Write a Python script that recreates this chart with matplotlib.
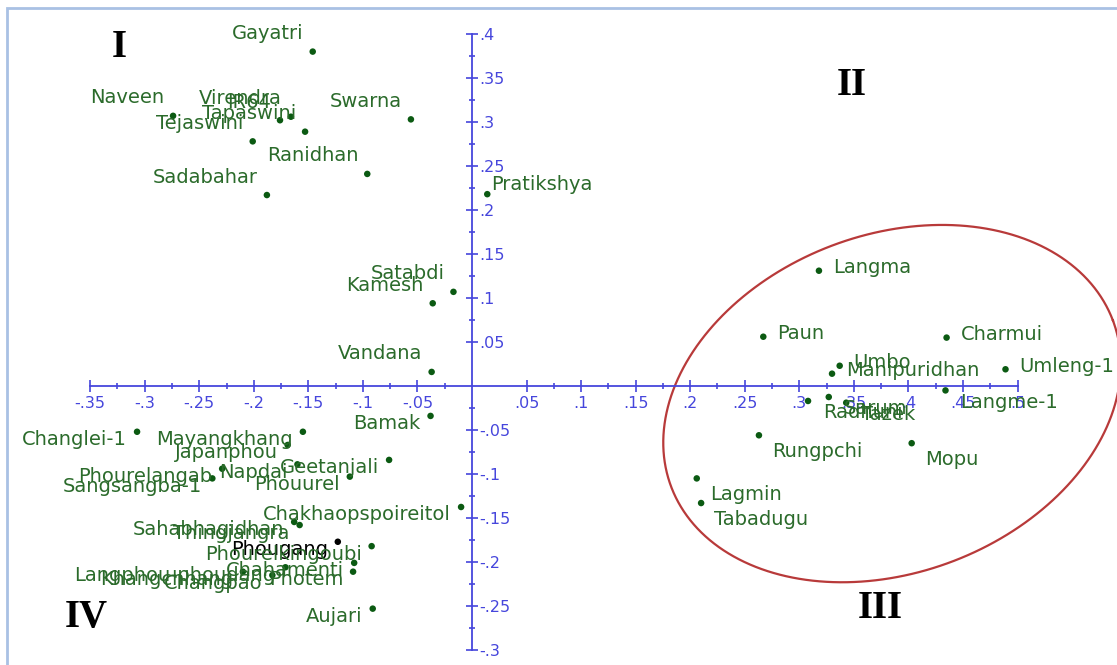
import matplotlib.pyplot as plt
import numpy as np
from matplotlib.patches import Rectangle
from matplotlib.ticker import FixedLocator, FuncFormatter

# varieties and their coordinates
names = ["Gayatri", "Naveen", "Virendra", "IR64", "Tapaswini", "Tejaswini",
         "Swarna", "Ranidhan", "Sadabahar", "Pratikshya", "Satabdi", "Kamesh",
         "Vandana",
         "Langma", "Paun", "Charmui", "Umbo", "Manipuridhan", "Umleng-1",
         "Langme-1", "Radhuni", "Sarum", "Tazek", "Rungpchi", "Mopu",
         "Lagmin", "Tabadugu",
         "Bamak", "Changlei-1", "Mayangkhang", "Japanphou", "Geetanjali",
         "Napdai", "Phourelangab", "Sangsangba-1", "Phouurel",
         "Chakhaopspoireitol", "Thingjangra", "Sahabhagidhan", "Phougang",
         "Phourelkingoubi", "Chahamenti", "Photem", "Langphou-phoudang",
         "Khangchhang", "Changpao", "Aujari"]
dim1 = [-0.146, -0.274, -0.166, -0.176, -0.153, -0.201,
        -0.056, -0.096, -0.188, 0.014, -0.017, -0.036,
        -0.037,
        0.318, 0.267, 0.435, 0.337, 0.330, 0.489,
        0.434, 0.308, 0.327, 0.343, 0.263, 0.403,
        0.206, 0.210,
        -0.038, -0.307, -0.155, -0.169, -0.076,
        -0.160, -0.229, -0.238, -0.112,
        -0.010, -0.158, -0.163, -0.123,
        -0.092, -0.108, -0.109, -0.171,
        -0.210, -0.183, -0.091]
dim2 = [0.380, 0.307, 0.306, 0.302, 0.289, 0.278,
        0.303, 0.241, 0.217, 0.218, 0.107, 0.094,
        0.016,
        0.131, 0.056, 0.055, 0.023, 0.014, 0.019,
        -0.005, -0.017, -0.0125, -0.019, -0.056, -0.065,
        -0.105, -0.133,
        -0.034, -0.052, -0.052, -0.067, -0.084,
        -0.089, -0.094, -0.105, -0.103,
        -0.1375, -0.158, -0.1545, -0.177,
        -0.182, -0.201, -0.211, -0.206,
        -0.211, -0.215, -0.253]

x_ticks = [-0.35, -0.3, -0.25, -0.2, -0.15, -0.1, -0.05, 0.05, 0.1, 0.15,
           0.2, 0.25, 0.3, 0.35, 0.4, 0.45, 0.5]
y_ticks = [-0.3, -0.25, -0.2, -0.15, -0.1, -0.05, 0.05, 0.1, 0.15, 0.2,
           0.25, 0.3, 0.35, 0.4]

quadrants = ["I", "II", "III", "IV"]
quad_x = [-0.323, 0.348, 0.374, -0.354]
quad_y = [0.385, 0.341, -0.253, -0.2625]

# where each label sits relative to its point
label_pos = ["ul"] * 9 + ["ur"] + ["ul"] * 3 + ["r"] * 6 + ["br2"] * 4 + ["br"] * 4 + ["l"] * 20
offsets = {"ul": (-9, 18, "right"), "ur": (4, 10, "left"), "r": (14, 3, "left"),
           "br": (13, -16, "left"), "br2": (15, -12, "left"), "l": (-10, -8, "right")}

blue = "#4646dc"
dot_green = "#0b5a12"
text_green = "#2b6b2b"

fig = plt.figure(figsize=(11.17, 6.65), dpi=100)
ax = fig.add_axes([0, 0, 1, 1])
# pixel -> data: x = (px - 472) / 1091, y = (386 - py) / 880
sx, sy = 1091, 880
ax.set_xlim(-472 / sx, (1117 - 472) / sx)
ax.set_ylim((386 - 665) / sy, 386 / sy)

for s in ["top", "left"]:
    ax.spines[s].set_visible(False)
ax.spines["bottom"].set_position(("data", 0))
ax.spines["right"].set_position(("data", 0))
ax.spines["bottom"].set_bounds(x_ticks[0], x_ticks[-1])
ax.spines["right"].set_bounds(y_ticks[0], y_ticks[-1])
for s in ["bottom", "right"]:
    ax.spines[s].set_color(blue)
    ax.spines[s].set_linewidth(1.3)
ax.yaxis.tick_right()

fmt = FuncFormatter(lambda v, p: "" if abs(v) < 1e-9 else ("%g" % v).replace("0.", "."))
ax.xaxis.set_major_locator(FixedLocator(x_ticks))
ax.yaxis.set_major_locator(FixedLocator(y_ticks))
ax.xaxis.set_minor_locator(FixedLocator([v + 0.025 for v in x_ticks[:-1] if v != -0.05] + [-0.025]))
ax.yaxis.set_minor_locator(FixedLocator([v + 0.025 for v in y_ticks[:-1] if v != -0.05] + [-0.025]))
ax.xaxis.set_major_formatter(fmt)
ax.yaxis.set_major_formatter(fmt)
ax.tick_params(which="major", direction="inout", length=8, width=1.2, color=blue,
               labelcolor=blue, labelsize=11.5)
ax.tick_params(which="minor", direction="inout", length=4.5, width=1.2, color=blue)
ax.tick_params(axis="x", which="major", pad=3)
ax.tick_params(axis="y", which="major", pad=1.5)

# points
cols = ["black" if n == "Phougang" else dot_green for n in names]
ax.scatter(dim1, dim2, s=22, c=cols, zorder=3, linewidths=0)

for n, x, y, p in zip(names, dim1, dim2, label_pos):
    dx, dy, ha = offsets[p]
    ax.annotate(n, (x, y), xytext=(dx, dy), textcoords="offset pixels",
                ha=ha, va="center", fontsize=14,
                color="black" if n == "Phougang" else text_green)

for q, x, y in zip(quadrants, quad_x, quad_y):
    ax.text(x, y, q, ha="center", va="center", fontsize=28, fontweight="bold",
            family="Liberation Serif", color="black")

# red ellipse round the right group
t = np.linspace(0, 2 * np.pi, 400)
th = np.radians(20.6)
ea, eb = 236, 169
ex = 0.385 + (ea * np.cos(t) * np.cos(th) - eb * np.sin(t) * np.sin(th)) / sx
ey = -0.020 + (ea * np.cos(t) * np.sin(th) + eb * np.sin(t) * np.cos(th)) / sy
ax.plot(ex, ey, color="#b83a3a", lw=1.6, zorder=2)

# light frame
fig.patches.append(Rectangle((7 / 1117, -0.05), 1.1, 1 - 8 / 665 + 0.05,
                             transform=fig.transFigure, fill=False,
                             edgecolor="#a9c1e4", lw=2))

plt.savefig("out.png", dpi=100)
